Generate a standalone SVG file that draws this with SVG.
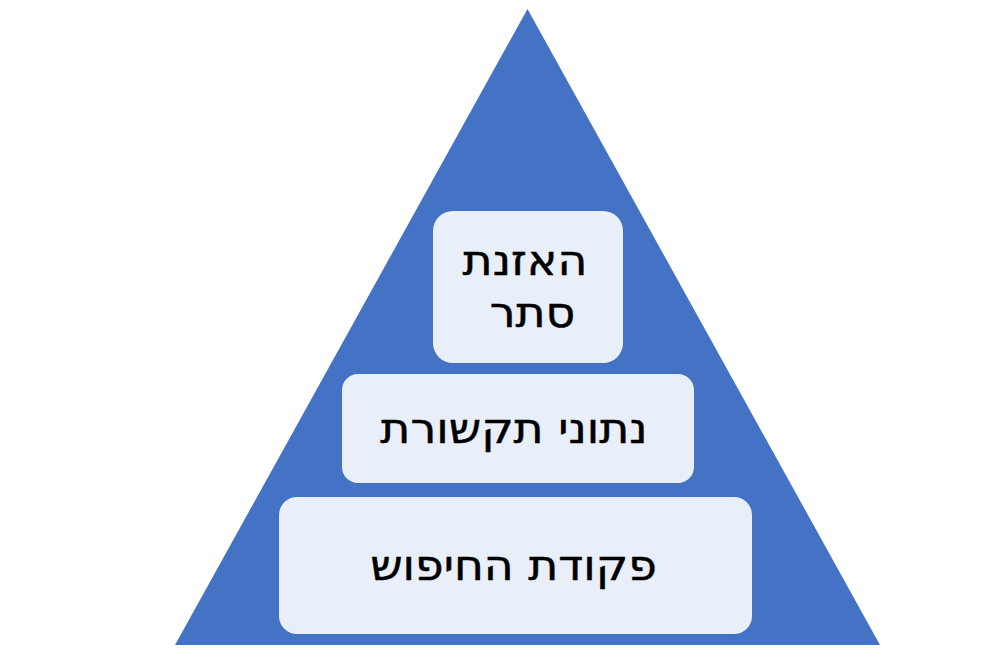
<svg xmlns="http://www.w3.org/2000/svg" width="1000" height="650" viewBox="0 0 1000 650">
<style>
.box{fill:#E9EFF8;stroke:none}
.lbl{font-family:"DejaVu Sans","Noto Sans",sans-serif;font-size:42px;fill:#000;stroke:#000;stroke-width:0.5px;text-anchor:middle;direction:rtl}
</style>
<rect width="1000" height="650" fill="#fff"/>
<g id="pyramid"><polygon points="527.5,9 880,645 175,645" fill="#4472C4"/></g>
<g id="node-top"><rect class="box" x="433" y="211" width="190" height="152" rx="20"/>
<text class="lbl" transform="translate(525 275) scale(1.09 1)">האזנת</text><text class="lbl" transform="translate(532.5 327) scale(1.09 1)">סתר</text></g>
<g id="node-middle"><rect class="box" x="342" y="374" width="352" height="109" rx="16"/>
<text class="lbl" transform="translate(514 443) scale(1.09 1)">נתוני תקשורת</text></g>
<g id="node-bottom"><rect class="box" x="279" y="497" width="473" height="137" rx="18"/>
<text class="lbl" transform="translate(513.5 580) scale(1.09 1)">פקודת החיפוש</text></g>
<g id="connectors"/>
</svg>
